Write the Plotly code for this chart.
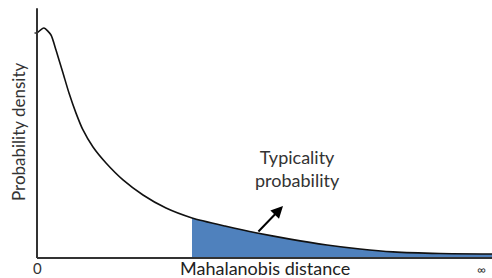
import plotly.graph_objects as go

# Curve (Mahalanobis distance vs probability density), arbitrary units
dist = [0.0, 0.14, 0.28, 0.38, 0.52, 0.64, 0.78, 0.92, 1.12, 1.38, 1.72, 2.12, 2.58, 3.1, 3.76, 4.4, 5.06, 5.8, 6.46, 7.12, 8.06, 9.1]
density = [1.0, 1.022, 0.991, 0.924, 0.822, 0.733, 0.644, 0.569, 0.493, 0.422, 0.347, 0.28, 0.222, 0.178, 0.142, 0.111, 0.084, 0.058, 0.04, 0.027, 0.02, 0.018]
threshold = 3.1

shade_x = [x for x in dist if x >= threshold]
shade_y = [y for x, y in zip(dist, density) if x >= threshold]

FONT = "Lato"
fig = go.Figure()
fig.add_trace(go.Scatter(x=shade_x, y=shade_y, mode="lines", fill="tozeroy",
                         fillcolor="#4f81bd", line=dict(color="rgba(0,0,0,0)", width=0, shape="spline", smoothing=0.6),
                         hoverinfo="skip"))
fig.add_trace(go.Scatter(x=dist, y=density, mode="lines",
                         line=dict(color="#111111", width=1.6, shape="spline", smoothing=0.6)))

# axes lines
fig.add_shape(type="line", x0=0, x1=0, y0=0, y1=1.11, line=dict(color="#333333", width=2))
fig.add_shape(type="line", x0=0, x1=9.1, y0=0, y1=0, line=dict(color="#333333", width=2))
fig.add_shape(type="line", x0=-0.05, x1=0, y0=1.0, y1=1.0, line=dict(color="#333333", width=1.5))

fig.add_annotation(x=4.92, y=0.231, ax=4.4, ay=0.111, axref="x", ayref="y", xref="x", yref="y",
                   showarrow=True, arrowhead=2, arrowsize=1.2, arrowwidth=2, arrowcolor="#000000", text="")
fig.add_annotation(x=5.2, y=0.40, text="Typicality<br>probability", showarrow=False,
                   font=dict(family=FONT, size=18, color="#333333"))
fig.add_annotation(x=4.56, y=-0.045, text="Mahalanobis distance", showarrow=False,
                   font=dict(family=FONT, size=18, color="#222222"))
fig.add_annotation(x=0, y=-0.045, text="0", showarrow=False,
                   font=dict(family=FONT, size=15, color="#333333"))
fig.add_annotation(x=8.88, y=-0.05, text="∞", showarrow=False,
                   font=dict(family=FONT, size=12, color="#333333"))
fig.add_annotation(x=-0.38, y=0.56, text="Probability density", showarrow=False, textangle=-90,
                   font=dict(family=FONT, size=17, color="#333333"))

fig.update_layout(width=492, height=278, margin=dict(l=0, r=0, t=0, b=0),
                  plot_bgcolor="white", paper_bgcolor="white", showlegend=False)
fig.update_xaxes(range=[-0.74, 9.1], visible=False)
fig.update_yaxes(range=[-0.0889, 1.1467], visible=False)
fig.write_html("out.html", config={"displayModeBar": False},
               post_script="document.body.style.margin='0';document.body.style.padding='0';")
